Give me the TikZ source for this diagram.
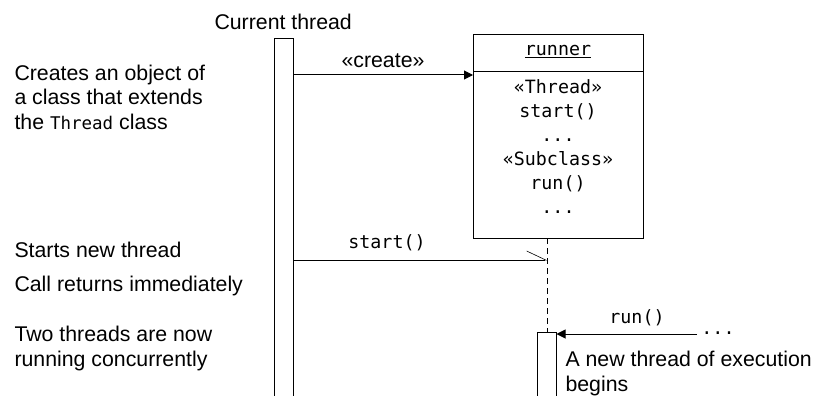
\documentclass[tikz,border=0pt]{standalone}
\usepackage{fontspec}
\setmainfont{Liberation Sans}
\setmonofont{DejaVu Sans Mono}
\usetikzlibrary{arrows.meta}

\begin{document}
\begin{tikzpicture}[x=1pt, y=-1pt, line width=1pt]
        \tikzstyle{note} = [inner sep=0pt, anchor=base west, align=left, font=\fontsize{21.3}{24.5}\selectfont]
        \tikzstyle{msglabel} = [inner sep=0pt, anchor=base, font=\fontsize{21.3}{24.5}\selectfont]
        \tikzstyle{code} = [inner sep=0pt, anchor=base, align=center, font=\ttfamily\fontsize{18.3}{24}\selectfont]
        \tikzstyle{bar} = [draw, rectangle, minimum width=19pt, minimum height=400pt, anchor=north, inner sep=0pt]
        \tikzstyle{objbox} = [draw, rectangle, minimum width=170pt, minimum height=204pt, anchor=north west, inner sep=0pt]
        \tikzstyle{call} = [-{Triangle[length=9pt, width=9pt]}]
        \tikzstyle{async} = [-{Straight Barb[harpoon, length=19pt, width=18pt, line width=0.6pt]}]
        \tikzstyle{life} = [dash pattern=on 6pt off 4pt]
        \useasboundingbox (0,0) rectangle (822,396);
        \clip (0,0) rectangle (822,396);
        % lifelines
        \node[msglabel, anchor=base west] (title) at (214,30) {Current thread};
        \node[bar] (mainbar) at (283.5,38) {};
        \node[objbox] (runner) at (473,34) {};
        \draw (runner.west |- 0,72) -- (runner.east |- 0,72);
        \node[code] (runnername) at (558,56) {\underline{runner}};
        % multi-line nodes sit on their last line
        \node[code] (members) at (558,213) {«Thread»\\start()\\...\\«Subclass»\\run()\\...};
        \coordinate (lifetop) at (547,238);
        \node[bar] (newbar) at (546.5,332) {};
        \draw[life] (lifetop) -- (lifetop |- newbar.north);
        % messages
        \node[msglabel] (createlabel) at (383,67) {«create»};
        \draw[call] (mainbar.east |- 0,75) -- (runner.west |- 0,75);
        \node[code] (startlabel) at (387,248) {start()};
        \draw[async] (mainbar.east |- 0,260) -- (lifetop |- 0,260);
        \node[code] (runlabel) at (637,323) {run()};
        \node[code] (caller) at (718,334) {...};
        \coordinate (runsrc) at (697,334);
        \draw[call] (runsrc) -- (newbar.east |- runsrc);
        % notes
        \node[note] (createnote) at (14,129) {Creates an object of\\a class that extends\\the {\ttfamily\fontsize{17.5}{24.5}\selectfont Thread} class};
        \node[note] (startnote) at (14,257) {Starts new thread};
        \node[note] (returnnote) at (14,291) {Call returns immediately};
        \node[note] (concnote) at (14,366) {Two threads are now\\running concurrently};
        \node[note] (newnote) at (565,391) {A new thread of execution\\begins};
    \end{tikzpicture}
\end{document}
